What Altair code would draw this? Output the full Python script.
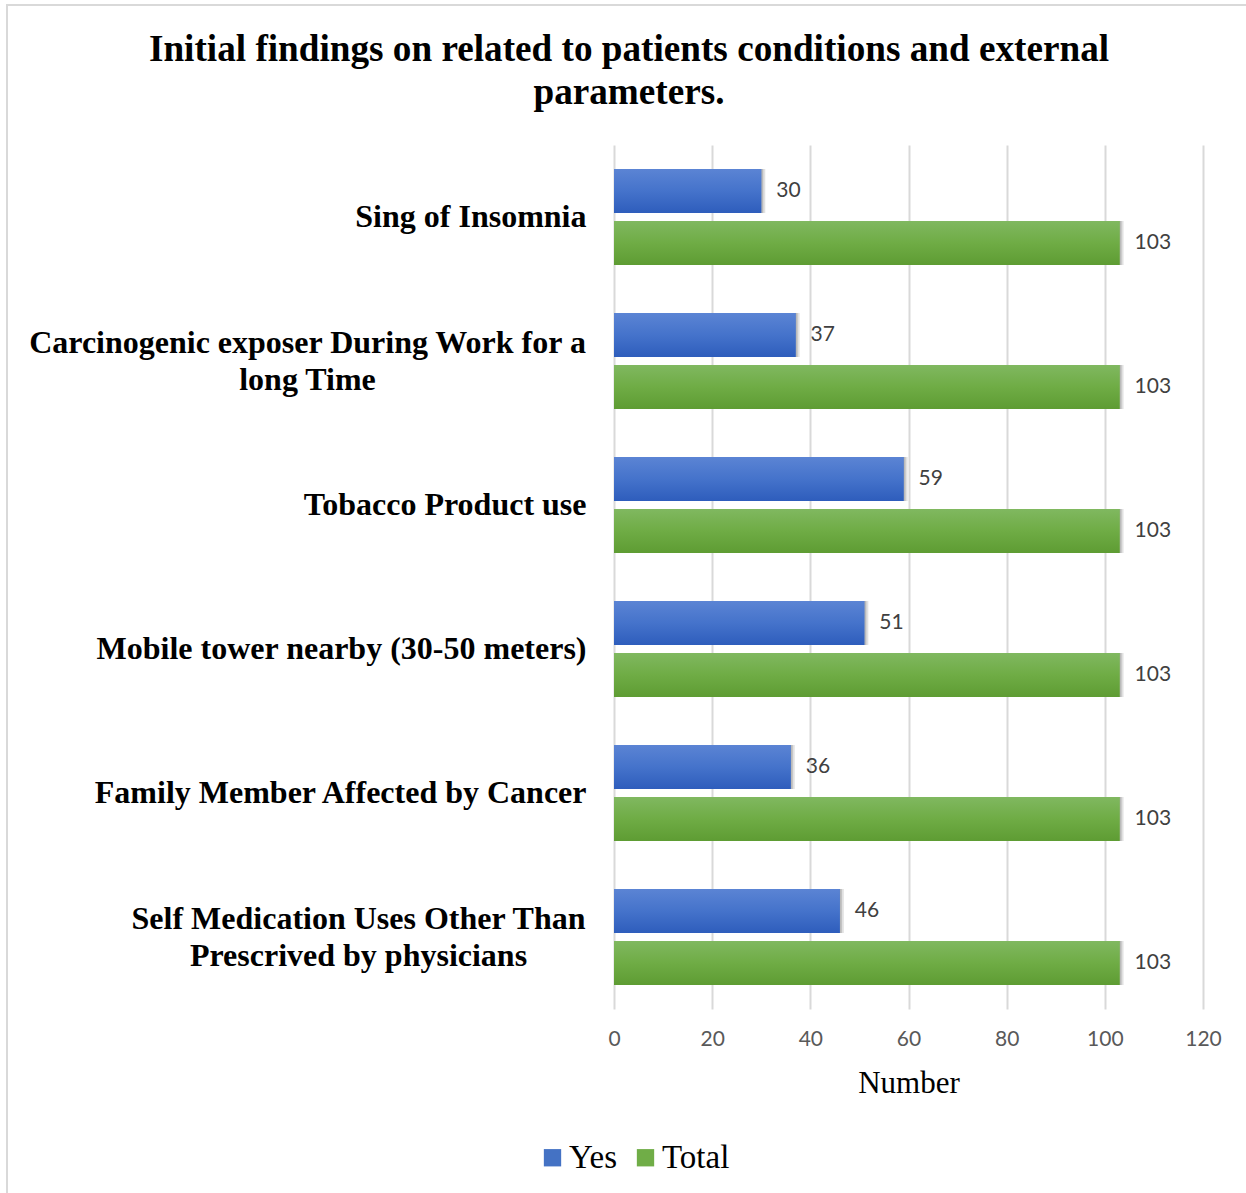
import altair as alt
import pandas as pd

# ---------------- data ----------------
CATEGORIES = [
    "Sing of Insomnia",
    "Carcinogenic exposer During Work for a|long Time",
    "Tobacco Product use",
    "Mobile tower nearby (30-50 meters)",
    "Family Member Affected by Cancer",
    "Self Medication Uses Other Than|Prescrived by physicians",
]
YES_VALUES = [30, 37, 59, 51, 36, 46]
TOTAL_VALUES = [103, 103, 103, 103, 103, 103]
SERIES = ["Yes", "Total"]
X_TICKS = [0, 20, 40, 60, 80, 100, 120]
TITLE_LINES = [
    "Initial findings on related to patients conditions and external",
    "parameters.",
]
X_TITLE = "Number"

LEGEND_COLORS = ["#4472C4", "#70AD47"]

rows = []
for lab, y, t in zip(CATEGORIES, YES_VALUES, TOTAL_VALUES):
    rows.append({"category": lab, "series": "Yes", "value": y})
    rows.append({"category": lab, "series": "Total", "value": t})
df = pd.DataFrame(rows)

W, H = 589, 864
SERIF = "Liberation Serif"
SANS = "Lato"

MULTI = "indexof(datum.value, '|') >= 0"

x_enc = alt.X(
    "value:Q",
    scale=alt.Scale(domain=[0, 120], nice=False),
    axis=alt.Axis(
        values=X_TICKS,
        title=X_TITLE,
        titleFont=SERIF,
        titleFontSize=31,
        titleFontWeight="normal",
        titleColor="black",
        titlePadding=19,
        labelFont=SANS,
        labelFontSize=21,
        labelColor="#595959",
        labelPadding=19,
        labelFlush=False,
        domain=False,
        ticks=False,
        grid=True,
        gridColor="#d9d9d9",
        gridWidth=2,
    ),
)
y_enc = alt.Y(
    "category:N",
    sort=CATEGORIES,
    scale=alt.Scale(paddingInner=1 / 3, paddingOuter=1 / 6),
    axis=alt.Axis(
        title=None,
        labelExpr="split(datum.label, '|')",
        labelFont=SERIF,
        labelFontWeight="bold",
        labelFontSize=32,
        labelColor="black",
        labelLimit=800,
        labelLineHeight=37,
        labelAlign={"condition": {"test": MULTI, "value": "center"}, "value": "right"},
        labelPadding={
            "condition": [
                {"test": "indexof(datum.value, 'Carcinogenic') >= 0", "value": 307},
                {"test": "indexof(datum.value, 'Self Medication') >= 0", "value": 256},
            ],
            "value": 28,
        },
        labelOffset={"condition": {"test": MULTI, "value": -18.5}, "value": 0},
        domain=False,
        ticks=False,
        grid=False,
    ),
)
yoff_enc = alt.YOffset(
    "series:N", sort=SERIES, scale=alt.Scale(paddingInner=0.154, paddingOuter=0)
)

base = alt.Chart(df)

shadow1 = base.mark_bar(color="#9a9a9a", opacity=0.3, xOffset=4, yOffset=6).encode(
    x=x_enc, y=y_enc, yOffset=yoff_enc
)
shadow2 = base.mark_bar(color="#8c8c8c", opacity=0.45, xOffset=2, yOffset=4).encode(
    x=x_enc, y=y_enc, yOffset=yoff_enc
)

solid = base.mark_bar().encode(
    x=x_enc,
    y=y_enc,
    yOffset=yoff_enc,
    color=alt.Color(
        "series:N",
        sort=SERIES,
        scale=alt.Scale(domain=SERIES, range=LEGEND_COLORS),
        legend=alt.Legend(
            title=None,
            orient="none",
            legendX=-78,
            legendY=996,
            direction="horizontal",
            symbolType="square",
            symbolSize=300,
            symbolStrokeWidth=0,
            labelFont=SERIF,
            labelFontSize=33,
            labelColor="black",
            labelOffset=0,
            columnPadding=11,
        ),
    ),
)

blue_grad = alt.Gradient(
    gradient="linear",
    stops=[
        alt.GradientStop(color="#5B84D4", offset=0),
        alt.GradientStop(color="#4573CB", offset=0.5),
        alt.GradientStop(color="#2E5DBC", offset=1),
    ],
    x1=0, x2=0, y1=0, y2=1,
)
green_grad = alt.Gradient(
    gradient="linear",
    stops=[
        alt.GradientStop(color="#80B860", offset=0),
        alt.GradientStop(color="#6FAC45", offset=0.5),
        alt.GradientStop(color="#5E9C33", offset=1),
    ],
    x1=0, x2=0, y1=0, y2=1,
)

yes_bars = base.transform_filter(alt.datum.series == "Yes").mark_bar(color=blue_grad).encode(
    x=x_enc, y=y_enc, yOffset=yoff_enc
)
total_bars = base.transform_filter(alt.datum.series == "Total").mark_bar(color=green_grad).encode(
    x=x_enc, y=y_enc, yOffset=yoff_enc
)

values_text = base.mark_text(
    align="left", baseline="middle", dx=15, font=SANS, fontSize=21, color="#404040"
).encode(x=x_enc, y=y_enc, yOffset=yoff_enc, text="value:Q")

one = alt.Chart(pd.DataFrame({"k": [0]}))
title_text = one.mark_text(
    align="center",
    baseline="alphabetic",
    font=SERIF,
    fontWeight="bold",
    fontSize=37.2,
    lineHeight=43,
    color="black",
).encode(x=alt.value(15), y=alt.value(-84), text=alt.value(TITLE_LINES))

border = one.mark_rect(filled=False, stroke="#d9d9d9", strokeWidth=2).encode(
    x=alt.value(-607), x2=alt.value(650), y=alt.value(-140), y2=alt.value(1070)
)

chart = (
    alt.layer(border, shadow1, shadow2, solid, yes_bars, total_bars, values_text, title_text)
    .properties(
        width=W,
        height=H,
        autosize=alt.AutoSizeParams(type="none"),
        padding={"left": 614, "top": 145, "right": 43, "bottom": 184},
        background="white",
    )
    .configure_view(strokeWidth=0)
)

chart.save("out.html", embed_options={"renderer": "svg", "actions": False})
